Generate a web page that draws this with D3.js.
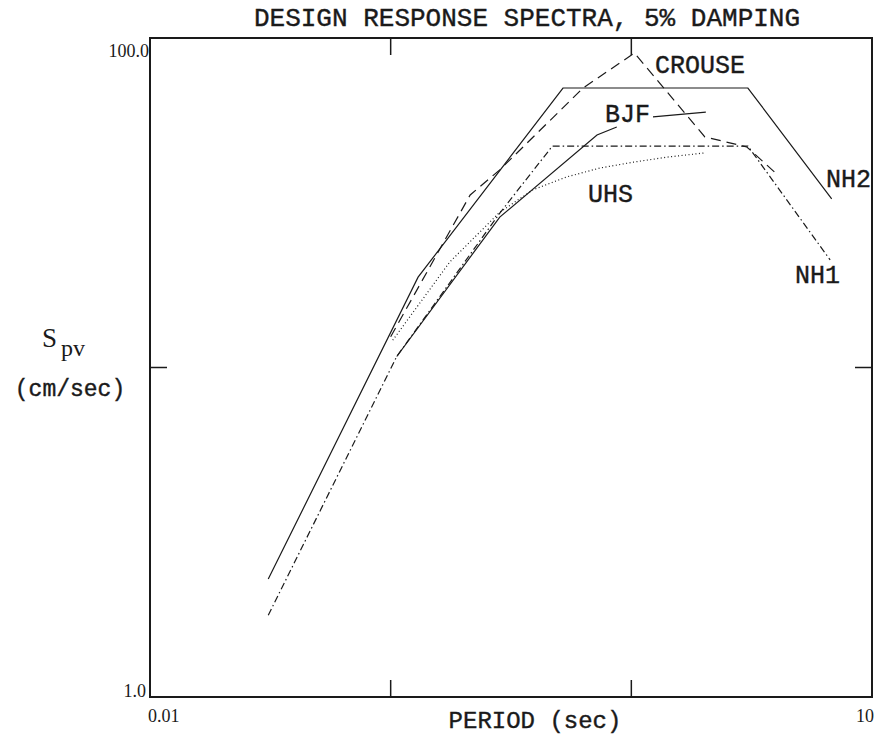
<!DOCTYPE html>
<html>
<head>
<meta charset="utf-8">
<script src="https://cdn.jsdelivr.net/npm/d3@7"></script>
<style>
  body { margin: 0; background: #fff; }
  svg { display: block; }
  .mono { font-family: "Liberation Mono", "Courier New", monospace; fill: #1a1a1a; stroke: #1a1a1a; stroke-width: 0.4px; }
  .serif { font-family: "Liberation Serif", "Times New Roman", serif; fill: #1a1a1a; }
</style>
</head>
<body>
<svg id="chart" width="877" height="736"></svg>
<script>
// spectra: [period (sec), Spv (cm/sec)]
const nh2 = [[0.031, 2.28], [0.13, 18.8], [0.52, 70.5], [3.05, 70.5], [6.8, 32.5]];
const nh1 = [[0.031, 1.77], [0.106, 10.8], [0.284, 29.4], [0.47, 47], [3.05, 47], [6.7, 21.2]];
const crouse = [[0.1, 12.4], [0.214, 33.4], [0.284, 39.8], [0.63, 70.5], [1.03, 90], [2.02, 50.1], [3.02, 46.7], [4.06, 38.4]];
const bjf = [[0.106, 10.8], [0.284, 28.6], [0.72, 50.8], [0.87, 53.7]];
const uhs = [[0.102, 12.1], [0.176, 20.9], [0.284, 29.6], [0.39, 34.6], [0.54, 37.9], [0.74, 40.3], [1.02, 42.0], [1.41, 43.5], [2.02, 44.8]];

// leader line from the BJF label
const bjfLeader = [[1.23, 57.6], [2.04, 59.6]];

// major ticks
const xTicks = [0.1, 1];
const yTicks = [10];

const svg = d3.select("#chart");

const x = d3.scaleLog().domain([0.01, 10]).range([150, 872]);
const y = d3.scaleLog().domain([1, 100]).range([697, 38]);

const line = d3.line()
  .x(d => x(d[0]))
  .y(d => y(d[1]));

// ------
// frame and ticks
svg.append("rect")
  .attr("x", x(0.01)).attr("y", y(100))
  .attr("width", x(10) - x(0.01))
  .attr("height", y(1) - y(100))
  .attr("fill", "none")
  .attr("stroke", "#1a1a1a")
  .attr("stroke-width", 2);

const tickLen = 17;
xTicks.forEach(t => {
  svg.append("line")
    .attr("x1", x(t)).attr("x2", x(t))
    .attr("y1", y(1)).attr("y2", y(1) - tickLen)
    .attr("stroke", "#1a1a1a").attr("stroke-width", 1.5);
  svg.append("line")
    .attr("x1", x(t)).attr("x2", x(t))
    .attr("y1", y(100)).attr("y2", y(100) + tickLen)
    .attr("stroke", "#1a1a1a").attr("stroke-width", 1.5);
});
yTicks.forEach(t => {
  svg.append("line")
    .attr("x1", x(0.01)).attr("x2", x(0.01) + tickLen)
    .attr("y1", y(t)).attr("y2", y(t))
    .attr("stroke", "#1a1a1a").attr("stroke-width", 1.5);
  svg.append("line")
    .attr("x1", x(10)).attr("x2", x(10) - tickLen)
    .attr("y1", y(t)).attr("y2", y(t))
    .attr("stroke", "#1a1a1a").attr("stroke-width", 1.5);
});

// ------
// the curves
const series = [
  { data: nh2, dash: null },
  { data: nh1, dash: "7,3,1.5,3" },
  { data: crouse, dash: "10,6" },
  { data: bjf, dash: null },
  { data: uhs, dash: "1,2.5" },
  { data: bjfLeader, dash: null }
];

svg.append("g")
  .selectAll("path")
  .data(series)
  .enter()
  .append("path")
  .attr("d", d => line(d.data))
  .attr("fill", "none")
  .attr("stroke", "#1a1a1a")
  .attr("stroke-width", 1.2)
  .attr("stroke-dasharray", d => d.dash);

// ------
// text
svg.append("text").attr("class", "mono")
  .attr("x", 527).attr("y", 26)
  .attr("text-anchor", "middle")
  .style("font-size", "26px")
  .text("DESIGN RESPONSE SPECTRA, 5% DAMPING");

const curveLabels = [
  { text: "CROUSE", x: 655, y: 73 },
  { text: "BJF", x: 605, y: 122 },
  { text: "UHS", x: 588, y: 202 },
  { text: "NH2", x: 826, y: 187 },
  { text: "NH1", x: 795, y: 283 }
];
svg.selectAll("text.curve")
  .data(curveLabels)
  .enter()
  .append("text")
  .attr("class", "mono curve")
  .attr("x", d => d.x).attr("y", d => d.y)
  .style("font-size", "25px")
  .text(d => d.text);

// axis numbers
svg.append("text").attr("class", "serif")
  .attr("x", 149).attr("y", 57).attr("text-anchor", "end")
  .style("font-size", "18px").text("100.0");
svg.append("text").attr("class", "serif")
  .attr("x", 146).attr("y", 697).attr("text-anchor", "end")
  .style("font-size", "18px").text("1.0");
svg.append("text").attr("class", "serif")
  .attr("x", 148).attr("y", 722)
  .style("font-size", "18px").text("0.01");
svg.append("text").attr("class", "serif")
  .attr("x", 874).attr("y", 722).attr("text-anchor", "end")
  .style("font-size", "18px").text("10");

// axis titles
svg.append("text").attr("class", "mono")
  .attr("x", 535).attr("y", 728).attr("text-anchor", "middle")
  .style("font-size", "24px")
  .text("PERIOD (sec)");

const ylab = svg.append("text").attr("class", "serif")
  .attr("x", 42).attr("y", 347)
  .style("font-size", "27px");
ylab.append("tspan").text("S");
ylab.append("tspan").attr("dx", 4).attr("dy", 9)
  .style("font-size", "24px").text("pv");

svg.append("text").attr("class", "mono")
  .attr("x", 70).attr("y", 396).attr("text-anchor", "middle")
  .style("font-size", "23px")
  .text("(cm/sec)");
</script>
</body>
</html>
